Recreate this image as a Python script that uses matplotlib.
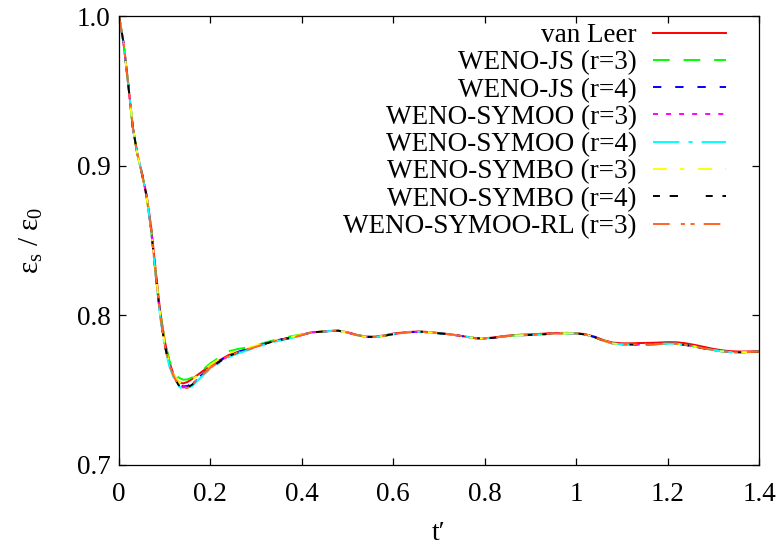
import matplotlib
matplotlib.use('Agg')
import matplotlib.pyplot as plt

plt.rcParams['font.family'] = ['Liberation Serif', 'DejaVu Serif']
plt.rcParams['mathtext.fontset'] = 'custom'
plt.rcParams['mathtext.rm'] = 'Liberation Serif'
plt.rcParams['mathtext.it'] = 'Liberation Serif:italic'
plt.rcParams['lines.scale_dashes'] = False

# time samples: dense through the initial drop, then a uniform step
t_head = [0.00, 0.01, 0.02, 0.03, 0.04, 0.05, 0.06, 0.07, 0.08, 0.09,
          0.10, 0.11, 0.12, 0.13, 0.14, 0.15, 0.16, 0.18, 0.20, 0.22,
          0.24, 0.26, 0.28, 0.30, 0.32, 0.34, 0.36, 0.38, 0.40]
t_tail = [0.42, 0.44, 0.46, 0.48, 0.50, 0.52, 0.54, 0.56, 0.58, 0.60,
          0.62, 0.64, 0.66, 0.68, 0.70, 0.72, 0.74, 0.76, 0.78, 0.80,
          0.82, 0.84, 0.86, 0.88, 0.90, 0.92, 0.94, 0.96, 0.98, 1.00,
          1.02, 1.04, 1.06, 1.08, 1.10, 1.12, 1.14, 1.16, 1.18, 1.20,
          1.22, 1.24, 1.26, 1.28, 1.30, 1.32, 1.34, 1.36, 1.38, 1.40]
t = t_head + t_tail

# common start (t <= 0.07) -- all schemes agree here
start = [1.000, 0.982, 0.955, 0.926, 0.908, 0.895, 0.880, 0.858]

van_leer_head = [1.000, 0.982, 0.955, 0.926, 0.908, 0.895, 0.881, 0.860,
                 0.831, 0.803, 0.783, 0.769, 0.760, 0.7555, 0.7545, 0.7555,
                 0.7575, 0.7620, 0.7665, 0.7700, 0.7735, 0.7755, 0.7772,
                 0.7792, 0.7812, 0.7830, 0.7842, 0.7855, 0.7870]
js3_head = start + [0.829, 0.802, 0.783, 0.770, 0.7625, 0.7585, 0.7570,
                    0.7572, 0.7585, 0.7625, 0.7680, 0.7720, 0.7760, 0.7775,
                    0.7785, 0.7800, 0.7818, 0.7835, 0.7850, 0.7862, 0.7873]
js4_head = start + [0.828, 0.800, 0.780, 0.767, 0.759, 0.754, 0.7525,
                    0.7528, 0.7545, 0.7600, 0.7655, 0.7695, 0.7733, 0.7756,
                    0.7773, 0.7792, 0.7812, 0.7830, 0.7842, 0.7854, 0.7869]
symoo3_head = start + [0.828, 0.800, 0.780, 0.767, 0.759, 0.7538, 0.7518,
                       0.7522, 0.7540, 0.7598, 0.7653, 0.7693, 0.7730, 0.7754,
                       0.7772, 0.7791, 0.7811, 0.7829, 0.7841, 0.7853, 0.7868]
symoo4_head = start + [0.827, 0.799, 0.779, 0.766, 0.758, 0.7528, 0.7505,
                       0.7508, 0.7528, 0.7588, 0.7643, 0.7683, 0.7720, 0.7745,
                       0.7765, 0.7785, 0.7805, 0.7823, 0.7837, 0.7850, 0.7866]
symbo3_head = start + [0.829, 0.801, 0.781, 0.768, 0.760, 0.7555, 0.7548,
                       0.7555, 0.7572, 0.7615, 0.7670, 0.7710, 0.7748, 0.7768,
                       0.7780, 0.7798, 0.7815, 0.7833, 0.7846, 0.7858, 0.7871]
symbo4_head = start + [0.828, 0.800, 0.780, 0.767, 0.759, 0.7535, 0.7515,
                       0.7518, 0.7537, 0.7596, 0.7650, 0.7690, 0.7728, 0.7752,
                       0.7770, 0.7790, 0.7810, 0.7828, 0.7840, 0.7852, 0.7868]
symoo_rl3_head = start + [0.828, 0.800, 0.780, 0.767, 0.759, 0.7535, 0.7512,
                          0.7515, 0.7535, 0.7595, 0.7650, 0.7690, 0.7728, 0.7752,
                          0.7770, 0.7790, 0.7810, 0.7828, 0.7840, 0.7852, 0.7868]

# late-time oscillation shared by the WENO runs
weno_tail = [0.7885, 0.7890, 0.7895, 0.7897, 0.7885, 0.7868, 0.7856, 0.7855,
             0.7863, 0.7875, 0.7882, 0.7888, 0.7890, 0.7886, 0.7880, 0.7874,
             0.7866, 0.7856, 0.7847, 0.7846, 0.7850, 0.7859, 0.7864, 0.7867,
             0.7869, 0.7872, 0.7876, 0.7879, 0.7880, 0.7879, 0.7872, 0.7855,
             0.7830, 0.7812, 0.7806, 0.7805, 0.7806, 0.7806, 0.7808, 0.7811,
             0.7810, 0.7802, 0.7791, 0.7779, 0.7768, 0.7759, 0.7754, 0.7753,
             0.7755, 0.7757]
van_leer_tail = [0.7886, 0.7891, 0.7896, 0.7898, 0.7887, 0.7870, 0.7858, 0.7858,
                 0.7866, 0.7878, 0.7885, 0.7890, 0.7892, 0.7888, 0.7882, 0.7875,
                 0.7867, 0.7857, 0.7848, 0.7847, 0.7852, 0.7861, 0.7867, 0.7871,
                 0.7873, 0.7876, 0.7880, 0.7882, 0.7883, 0.7881, 0.7874, 0.7858,
                 0.7834, 0.7818, 0.7813, 0.7813, 0.7815, 0.7816, 0.7818, 0.7821,
                 0.7820, 0.7813, 0.7802, 0.7789, 0.7776, 0.7766, 0.7760, 0.7758,
                 0.7759, 0.7760]

labels = ['van Leer', 'WENO-JS (r=3)', 'WENO-JS (r=4)', 'WENO-SYMOO (r=3)',
          'WENO-SYMOO (r=4)', 'WENO-SYMBO (r=3)', 'WENO-SYMBO (r=4)',
          'WENO-SYMOO-RL (r=3)']
series = [van_leer_head + van_leer_tail,
          js3_head + weno_tail,
          js4_head + weno_tail,
          symoo3_head + weno_tail,
          symoo4_head + weno_tail,
          symbo3_head + weno_tail,
          symbo4_head + weno_tail,
          symoo_rl3_head + weno_tail]
colors = ['#ff0000', '#00ff00', '#0000ff', '#ff00ff',
          '#00ffff', '#ffff00', '#000000', '#ff6420']
dashes = [None, (12, 10), (6, 10), (3.6, 5.8),
          (19, 6.5, 3, 6.5), (10, 9.5, 3, 10), (5, 7, 6, 20),
          (12, 8, 3, 4, 3, 6.5)]

fig = plt.figure(figsize=(7.83, 5.5), dpi=100)
ax = fig.add_axes([119 / 783, 1 - 465 / 550, 640 / 783, 449 / 550])

for y, lab, c, d in zip(series, labels, colors, dashes):
    line, = ax.plot(t, y, color=c, lw=1.4, label=lab)
    if d is not None:
        line.set_dashes(d)

ax.set_xlim(0, 1.4)
ax.set_ylim(0.7, 1.0)
ax.set_xticks([0, 0.2, 0.4, 0.6, 0.8, 1.0, 1.2, 1.4])
ax.set_xticklabels(['0', '0.2', '0.4', '0.6', '0.8', '1', '1.2', '1.4'])
ax.set_yticks([0.7, 0.8, 0.9, 1.0])
ax.set_yticklabels(['0.7', '0.8', '0.9', '1.0'])
ax.tick_params(direction='in', length=5, width=0.9, top=True, right=True,
               labelsize=19.5)
ax.tick_params(axis='x', pad=12)
ax.tick_params(axis='y', pad=6)
for sp in ax.spines.values():
    sp.set_linewidth(0.9)

ax.set_xlabel('t\u2032', fontsize=20, labelpad=10)
ax.set_ylabel(r'$\mathregular{ε_s\ /\ ε_0}$', fontsize=21, labelpad=23)

ax.legend(loc='upper right', bbox_to_anchor=(726 / 783, 1 - 23 / 550),
          bbox_transform=fig.transFigure, frameon=False, markerfirst=False,
          fontsize=19.5, handlelength=2.7, handletextpad=0.6,
          labelspacing=0.085, borderpad=0, borderaxespad=0)

fig.savefig('out.png', dpi=100)
